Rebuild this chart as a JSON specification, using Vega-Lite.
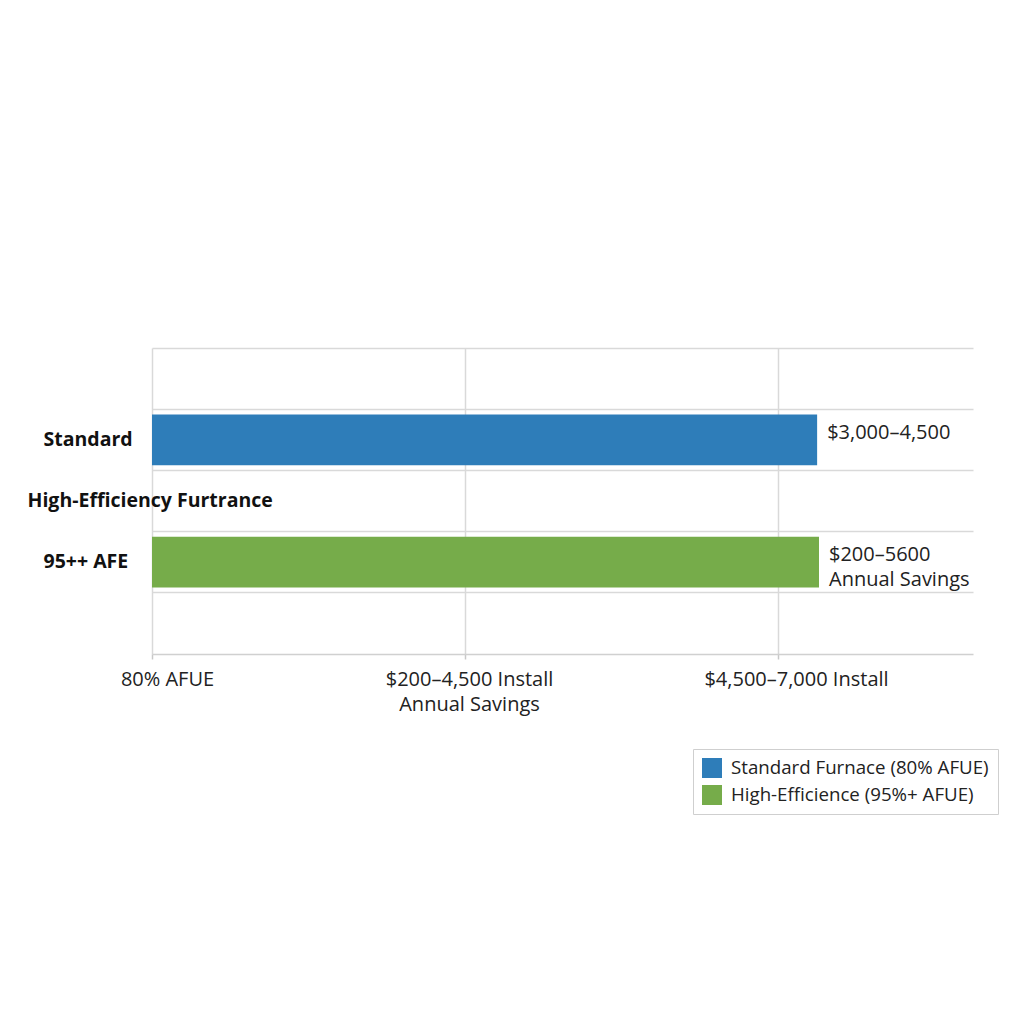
{
  "$schema": "https://vega.github.io/schema/vega-lite/v6.json",
  "width": 821,
  "height": 306,
  "autosize": "none",
  "padding": {"left": 152, "top": 348, "right": 51, "bottom": 370},
  "background": "white",
  "data": {
    "values": [
      {"category": "Standard", "series": "Standard Furnace (80% AFUE)", "amount": 2.125, "note": "$3,000–4,500"},
      {"category": "95++ AFE", "series": "High-Efficience (95%+ AFUE)", "amount": 2.131, "note": "$200–5600\nAnnual Savings"}
    ]
  },
  "encoding": {
    "y": {
      "field": "category",
      "type": "nominal",
      "title": null,
      "scale": {
        "domain": ["_top", "Standard", "High-Efficiency Furtrance", "95++ AFE", "_bottom"],
        "paddingInner": 0,
        "paddingOuter": 0
      },
      "axis": {
        "bandPosition": 0,
        "grid": true,
        "gridColor": "#d9d9d9",
        "gridWidth": 1.5,
        "ticks": false,
        "domain": false,
        "labelExpr": "datum.label == '_top' || datum.label == '_bottom' ? '' : datum.label",
        "labelAlign": "left",
        "labelBaseline": "middle",
        "labelPadding": {"condition": {"test": "datum.value == 'High-Efficiency Furtrance'", "value": 125}, "value": 109},
        "labelFont": "Open Sans",
        "labelFontWeight": "bold",
        "labelFontSize": 19.5,
        "labelColor": "#111111",
        "labelLimit": 400
      }
    },
    "x": {
      "field": "amount",
      "type": "quantitative",
      "title": null,
      "scale": {"domain": [0, 2.623], "nice": false},
      "axis": {
        "values": [0, 1, 2],
        "labelExpr": "datum.value == 0 ? '80% AFUE' : datum.value == 1 ? ['$200–4,500 Install', 'Annual Savings'] : '$4,500–7,000 Install'",
        "labelOffset": {"condition": [{"test": "datum.value == 0", "value": 15}, {"test": "datum.value == 2", "value": 18}], "value": 4},
        "labelFont": "Open Sans",
        "labelFontSize": 20,
        "labelColor": "#222222",
        "labelPadding": 10,
        "labelLineHeight": 25,
        "labelLimit": 400,
        "labelFlush": false,
        "labelOverlap": false,
        "labelAngle": 0,
        "tickSize": 5,
        "tickColor": "#c8c8c8",
        "tickWidth": 1.5,
        "domainColor": "#d0d0d0",
        "domainWidth": 1.5,
        "gridColor": "#d9d9d9",
        "gridWidth": 1.5
      }
    }
  },
  "layer": [
    {
      "mark": {"type": "bar", "height": {"band": 0.83}},
      "encoding": {
        "color": {
          "field": "series",
          "type": "nominal",
          "scale": {
            "domain": ["Standard Furnace (80% AFUE)", "High-Efficience (95%+ AFUE)"],
            "range": ["#2e7db9", "#76ac4a"]
          },
          "legend": {
            "orient": "none",
            "legendX": 541,
            "legendY": 401,
            "title": null,
            "symbolType": "square",
            "symbolSize": 400,
            "symbolStrokeWidth": 0,
            "labelFont": "Open Sans",
            "labelFontSize": 18.7,
            "labelColor": "#222222",
            "labelOffset": 9,
            "labelLimit": 400,
            "rowPadding": 7,
            "padding": 9,
            "strokeColor": "#cfcfcf",
            "fillColor": "white"
          }
        }
      }
    },
    {
      "mark": {
        "type": "text",
        "align": "left",
        "baseline": "top",
        "dx": 10,
        "dy": -17,
        "font": "Open Sans",
        "fontSize": 20,
        "lineHeight": 25,
        "lineBreak": "\n",
        "color": "#222222"
      },
      "encoding": {
        "text": {"field": "note", "type": "nominal"}
      }
    }
  ],
  "config": {
    "view": {"stroke": null},
    "font": "Open Sans"
  }
}
